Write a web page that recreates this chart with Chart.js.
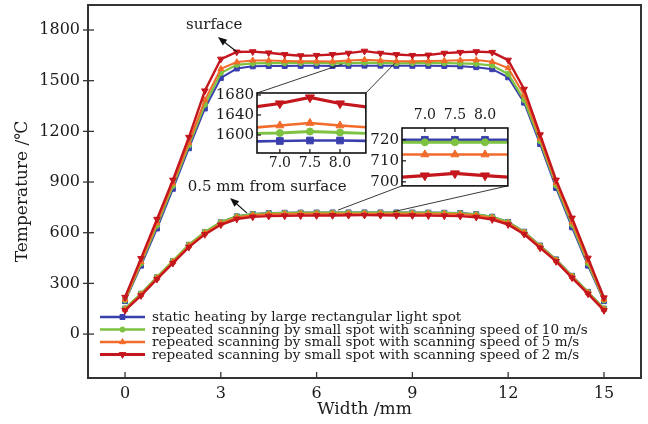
<!DOCTYPE html>
<html><head><meta charset="utf-8">
<script src="https://cdn.jsdelivr.net/npm/chart.js@4.4.1/dist/chart.umd.min.js"></script>
<style>
html,body{margin:0;padding:0;background:#fff;}
#wrap{position:relative;width:648px;height:424px;overflow:hidden;}
canvas{position:absolute;}
</style></head><body>
<div id="wrap">
<canvas id="main" width="648" height="424" style="left:0;top:0"></canvas>
<canvas id="in1" width="172" height="90" style="left:200px;top:86px"></canvas>
<canvas id="in2" width="154" height="102" style="left:360px;top:90px"></canvas>
</div>
<script>
// ---------------- data ----------------
const WIDTH_MM = [0,0.5,1,1.5,2,2.5,3,3.5,4,4.5,5,5.5,6,6.5,7,7.5,8,8.5,9,9.5,10,10.5,11,11.5,12,12.5,13,13.5,14,14.5,15];

// surface temperatures (°C)
const SURF_STATIC = [195,405,625,860,1100,1335,1516,1572,1585,1587,1587,1588,1588,1587,1588,1589,1589,1588,1588,1588,1587,1585,1580,1568,1520,1370,1125,865,632,405,195];
const SURF_10MS   = [200,418,642,878,1118,1358,1545,1594,1602,1604,1604,1605,1605,1603,1604,1607,1605,1603,1604,1604,1604,1603,1600,1590,1540,1385,1142,880,648,418,200];
const SURF_5MS    = [205,428,658,893,1133,1385,1570,1610,1620,1620,1617,1615,1615,1614,1619,1624,1619,1615,1615,1616,1618,1621,1622,1612,1575,1415,1158,895,662,432,205];
const SURF_2MS    = [218,448,680,912,1165,1440,1628,1670,1672,1665,1655,1648,1650,1655,1663,1675,1663,1655,1650,1652,1663,1668,1672,1668,1622,1450,1180,912,687,450,215];

// 0.5 mm below surface (°C)
const SUB_STATIC = [150,238,336,432,528,603,662,697,711,716,718,719,719.5,720,720,720,720,720,719.5,719,718,716,710,695,664,606,524,442,345,250,150];
const SUB_10MS   = [152,240,338,434,530,605,663,697,710,715,717,718,718.5,718.8,718.8,718.8,718.8,718.8,718.5,718,717,715,709,694,663,605,523,441,344,249,152];
const SUB_5MS    = [146,234,331,427,522,597,655,690,704,709,711,712,712.5,713,713,713,713,713,712.5,712,711,709,703,688,657,599,517,436,339,244,146];
const SUB_2MS    = [140,228,325,420,515,590,647,681,694,698,700,701,701.5,702,703,704,703,702,701.5,701,700,698,692,678,648,591,510,430,333,238,140];

const LEGEND_LABELS = [
  'static heating by large rectangular light spot',
  'repeated scanning by small spot with scanning speed of 10 m/s',
  'repeated scanning by small spot with scanning speed of 5 m/s',
  'repeated scanning by small spot with scanning speed of 2 m/s'
];

const X_TICKS = [0,3,6,9,12,15];
const Y_TICKS = [0,300,600,900,1200,1500,1800];
const IN1_X_TICKS = [7.0,7.5,8.0];
const IN1_Y_TICKS = [1600,1640,1680];
const IN2_X_TICKS = [7.0,7.5,8.0];
const IN2_Y_TICKS = [700,710,720];

// ---------------- styling ----------------
const FONT = "'DejaVu Serif', 'Liberation Serif', serif";
const INK = '#1a1a1a';
Chart.defaults.font.family = FONT;
Chart.defaults.color = INK;

const SERIES = [
  {label: LEGEND_LABELS[0], color:'#3a3fae', style:'rect',     rot:0,   r:3.5, lw:2,   surf:SURF_STATIC, sub:SUB_STATIC, order:3},
  {label: LEGEND_LABELS[1], color:'#7dc241', style:'circle',   rot:0,   r:2.6, lw:2.2, surf:SURF_10MS,   sub:SUB_10MS,   order:2},
  {label: LEGEND_LABELS[2], color:'#f26b2b', style:'triangle', rot:0,   r:3.4, lw:2,   surf:SURF_5MS,    sub:SUB_5MS,    order:1},
  {label: LEGEND_LABELS[3], color:'#c4161d', style:'triangle', rot:180, r:3.8, lw:2.4, surf:SURF_2MS,    sub:SUB_2MS,    order:0}
];

function pts(arr){ return WIDTH_MM.map((x,i)=>({x:x, y:arr[i]})); }

function datasets(keys, k){
  const out = [];
  keys.forEach(key => {
    SERIES.forEach(s => {
      out.push({
        data: pts(s[key]),
        borderColor: s.color, backgroundColor: s.color,
        pointBackgroundColor: s.color, pointBorderColor: s.color,
        borderWidth: s.lw * k, pointBorderWidth: 1,
        pointStyle: s.style, pointRotation: s.rot, pointRadius: s.r * k,
        tension: 0, order: s.order, clip: k > 1 ? 0 : 4
      });
    });
  });
  return out;
}

function noPad(s){ s.paddingTop = 0; s.paddingBottom = 0; s.paddingLeft = 0; s.paddingRight = 0; }

// frame + inward ticks plugin
const boxPlugin = {
  id: 'box',
  beforeDraw(chart, args, o){
    if (!o.fill) return;
    const {ctx, chartArea:a} = chart;
    ctx.save(); ctx.fillStyle = '#fff';
    ctx.fillRect(a.left, a.top, a.right-a.left, a.bottom-a.top);
    ctx.restore();
  },
  afterDraw(chart, args, o){
    const {ctx, chartArea:a, scales:{x, y}} = chart;
    ctx.save();
    ctx.strokeStyle = o.color || '#333';
    ctx.lineWidth = o.frame;
    ctx.strokeRect(a.left, a.top, a.right-a.left, a.bottom-a.top);
    ctx.lineWidth = o.tickWidth;
    const yEdge = o.xSide === 'top' ? a.top : a.bottom;
    const dir = o.xSide === 'top' ? 1 : -1;
    o.xTicks.forEach(v => {
      const px = x.getPixelForValue(v);
      ctx.beginPath(); ctx.moveTo(px, yEdge); ctx.lineTo(px, yEdge + dir*o.len); ctx.stroke();
    });
    o.yTicks.forEach(v => {
      const py = y.getPixelForValue(v);
      ctx.beginPath(); ctx.moveTo(a.left - (o.out||0), py); ctx.lineTo(a.left + o.len, py); ctx.stroke();
    });
    ctx.restore();
  }
};

function arrow(ctx, x1, y1, x2, y2){
  const ang = Math.atan2(y2-y1, x2-x1);
  const L = 9, W = 3.6;
  ctx.beginPath(); ctx.moveTo(x1,y1); ctx.lineTo(x2 - L*0.7*Math.cos(ang), y2 - L*0.7*Math.sin(ang)); ctx.stroke();
  ctx.beginPath();
  ctx.moveTo(x2,y2);
  ctx.lineTo(x2 - L*Math.cos(ang) + W*Math.sin(ang), y2 - L*Math.sin(ang) - W*Math.cos(ang));
  ctx.lineTo(x2 - L*Math.cos(ang) - W*Math.sin(ang), y2 - L*Math.sin(ang) + W*Math.cos(ang));
  ctx.closePath(); ctx.fill();
}

// ---------------- insets ----------------
function insetChart(id, keys, xr, yr, xTicks, yTicks, xPos, yW, xH, pad){
  return new Chart(document.getElementById(id), {
    type: 'line',
    data: { datasets: datasets(keys, 1.35) },
    plugins: [boxPlugin],
    options: {
      responsive:false, animation:false, devicePixelRatio:1, events:[],
      layout:{padding: pad},
      plugins:{legend:{display:false}, tooltip:{enabled:false},
        box:{frame:1.6, tickWidth:1.2, len:4, xSide:xPos, xTicks:xTicks, yTicks:yTicks, fill:true, color:'#111'}},
      scales:{
        x:{type:'linear', position:xPos, min:xr[0], max:xr[1],
           afterBuildTicks: s => { s.ticks = xTicks.map(v=>({value:v})); },
           afterFit: s => { s.height = xH; noPad(s); },
           grid:{display:false, drawTicks:false}, border:{display:false},
           ticks:{font:{size:14}, color:INK, padding: xPos==='top' ? 4 : 2, maxRotation:0, callback: v => v.toFixed(1)}},
        y:{type:'linear', min:yr[0], max:yr[1],
           afterBuildTicks: s => { s.ticks = yTicks.map(v=>({value:v})); },
           afterFit: s => { s.width = yW; noPad(s); },
           grid:{display:false, drawTicks:false}, border:{display:false},
           ticks:{font:{size:15}, color:INK, padding:3, callback: v => String(v)}}
      }
    }
  });
}

const inset1 = insetChart('in1', ['surf'], [6.62, 8.43], [1564, 1684], IN1_X_TICKS, IN1_Y_TICKS, 'bottom', 57, 23, {top:7, right:6, left:0, bottom:0});
const inset2 = insetChart('in2', ['sub'],  [6.62, 8.38], [698.1, 725.6], IN2_X_TICKS, IN2_Y_TICKS, 'top', 42, 38, {top:0, right:6, left:0, bottom:5});

// ---------------- main ----------------
const ANNOT = {
  surfaceText: {x:2.79, y:1830, text:'surface'},
  surfaceArrow: {from:{x:3.51, y:1670}, to:{x:2.91, y:1758}},
  subText: {x:4.45, y:870, text:'0.5 mm from surface'},
  subArrow: {from:{x:3.82, y:716}, to:{x:3.29, y:805}},
  in1Links: [{x:6.8, y:1598}, {x:8.45, y:1603}],
  in2Links: [{x:6.67, y:734}, {x:8.4, y:724}]
};

const annotPlugin = {
  id: 'annot',
  afterDraw(chart){
    const {ctx, scales:{x, y}} = chart;
    const P = p => [x.getPixelForValue(p.x), y.getPixelForValue(p.y)];
    ctx.save();
    ctx.fillStyle = INK; ctx.font = '15px ' + FONT; ctx.textAlign = 'center'; ctx.textBaseline = 'middle';
    let t = P(ANNOT.surfaceText); ctx.fillText(ANNOT.surfaceText.text, t[0], t[1]);
    t = P(ANNOT.subText); ctx.fillText(ANNOT.subText.text, t[0], t[1]);
    ctx.strokeStyle = '#111'; ctx.fillStyle = '#111'; ctx.lineWidth = 1.1;
    [ANNOT.surfaceArrow, ANNOT.subArrow].forEach(a => { const f = P(a.from), h = P(a.to); arrow(ctx, f[0], f[1], h[0], h[1]); });
    ctx.lineWidth = 0.9; ctx.strokeStyle = '#222';
    const c1 = inset1.canvas, a1 = inset1.chartArea;
    const o1x = parseFloat(c1.style.left), o1y = parseFloat(c1.style.top);
    const corners1 = [[o1x + a1.left, o1y + a1.top], [o1x + a1.right, o1y + a1.top]];
    ANNOT.in1Links.forEach((p, i) => { const q = P(p); ctx.beginPath(); ctx.moveTo(corners1[i][0], corners1[i][1]); ctx.lineTo(q[0], q[1]); ctx.stroke(); });
    const c2 = inset2.canvas, a2 = inset2.chartArea;
    const o2x = parseFloat(c2.style.left), o2y = parseFloat(c2.style.top);
    const corners2 = [[o2x + a2.left, o2y + a2.bottom], [o2x + a2.right, o2y + a2.bottom]];
    ANNOT.in2Links.forEach((p, i) => { const q = P(p); ctx.beginPath(); ctx.moveTo(corners2[i][0], corners2[i][1]); ctx.lineTo(q[0], q[1]); ctx.stroke(); });
    // legend
    const x0 = 100, x1 = 145, tx = 152, rows = [317, 329.5, 342, 354.5];
    ctx.font = '13px ' + FONT;
    const w = ctx.measureText(LEGEND_LABELS[1]).width;
    const fs = 13 * 436 / w;
    ctx.font = fs.toFixed(2) + 'px ' + FONT;
    ctx.textAlign = 'left';
    SERIES.forEach((s, i) => {
      const yy = rows[i];
      ctx.strokeStyle = s.color; ctx.lineWidth = s.lw + 0.4;
      ctx.beginPath(); ctx.moveTo(x0, yy); ctx.lineTo(x1, yy); ctx.stroke();
      ctx.fillStyle = s.color; ctx.strokeStyle = s.color; ctx.lineWidth = 1;
      Chart.helpers.drawPoint(ctx, {pointStyle:s.style, rotation:s.rot, radius:s.r, borderWidth:1}, (x0+x1)/2, yy);
      ctx.fillStyle = INK;
      ctx.fillText(s.label, tx, yy + 0.5);
    });
    ctx.restore();
  }
};

const main = new Chart(document.getElementById('main'), {
  type: 'line',
  data: { datasets: datasets(['surf','sub'], 1) },
  plugins: [boxPlugin, annotPlugin],
  options: {
    responsive:false, animation:false, devicePixelRatio:1, events:[],
    layout:{padding:{top:5, right:7, left:0, bottom:0}},
    plugins:{legend:{display:false}, tooltip:{enabled:false},
      box:{frame:2, tickWidth:1.3, len:6, out:5, xSide:'bottom', xTicks:X_TICKS, yTicks:Y_TICKS, fill:false, color:'#333'}},
    scales:{
      x:{type:'linear', min:-1.16, max:16.16,
         afterBuildTicks: s => { s.ticks = X_TICKS.map(v=>({value:v})); },
         afterFit: s => { s.height = 46; noPad(s); },
         grid:{display:false, drawTicks:false}, border:{display:false},
         ticks:{font:{size:16}, color:INK, padding:6, maxRotation:0, callback: v => String(v)},
         title:{display:true, text:'Width /mm', font:{size:17}, color:INK, padding:{top:0, bottom:4}}},
      y:{type:'linear', min:-260, max:1948,
         afterBuildTicks: s => { s.ticks = Y_TICKS.map(v=>({value:v})); },
         afterFit: s => { s.width = 88; noPad(s); },
         grid:{display:false, drawTicks:false}, border:{display:false},
         ticks:{font:{size:16}, color:INK, padding:8, callback: v => String(v)},
         title:{display:true, text:'Temperature /℃', font:{size:17}, color:INK, padding:{top:12, bottom:0}}}
    }
  }
});
</script>
</body></html>
